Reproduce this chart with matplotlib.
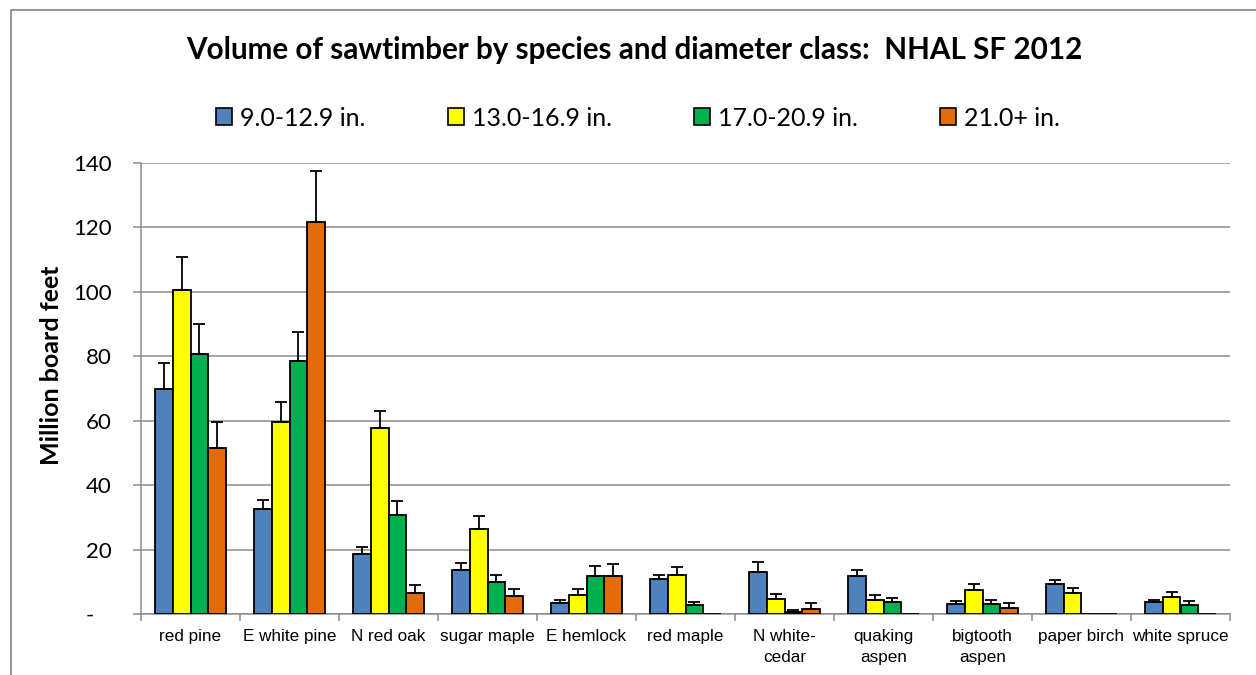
import matplotlib.pyplot as plt
from matplotlib.patches import Patch
from matplotlib.lines import Line2D
from matplotlib.ticker import FuncFormatter
import numpy as np

# species (x categories)
species = ['red pine', 'E white pine', 'N red oak', 'sugar maple', 'E hemlock',
           'red maple', 'N white-\ncedar', 'quaking\naspen', 'bigtooth\naspen',
           'paper birch', 'white spruce']

# diameter classes
classes = ['9.0-12.9 in.', '13.0-16.9 in.', '17.0-20.9 in.', '21.0+ in.']
colors = ['#4F81BD', '#FFFF00', '#00B050', '#E36C09']

# volume, million board feet
vol_9 = [70.0, 32.5, 18.7, 13.7, 3.4, 10.8, 13.1, 11.8, 3.0, 9.4, 3.6]
vol_13 = [100.6, 59.6, 57.7, 26.4, 5.8, 12.2, 4.7, 4.5, 7.5, 6.5, 5.3]
vol_17 = [80.8, 78.6, 30.6, 9.8, 11.9, 2.7, 0.7, 3.7, 3.1, 0.0, 2.8]
vol_21 = [51.5, 121.8, 6.6, 5.5, 11.7, 0.0, 1.7, 0.0, 2.0, 0.0, 0.0]

# upper error bars
err_9 = [7.9, 2.8, 2.2, 2.0, 1.0, 1.4, 3.1, 2.0, 0.9, 1.2, 0.9]
err_13 = [10.3, 6.2, 5.2, 4.1, 1.9, 2.3, 1.5, 1.5, 1.9, 1.5, 1.6]
err_17 = [9.2, 9.0, 4.5, 2.4, 3.1, 1.1, 0.5, 1.3, 1.3, 0.0, 1.3]
err_21 = [8.1, 15.6, 2.5, 2.2, 3.9, 0.0, 1.7, 0.0, 1.4, 0.0, 0.0]

vols = [vol_9, vol_13, vol_17, vol_21]
errs = [err_9, err_13, err_17, err_21]

W, H = 1256, 675
fig = plt.figure(figsize=(W / 100, H / 100), dpi=100)
ax = fig.add_axes([141 / W, 1 - 614 / H, (1230 - 141) / W, (614 - 163) / H])

grey = '#8C8C8C'
x = np.arange(len(species))
bw = 0.181
offsets = [-1.5 * bw, -0.5 * bw, 0.5 * bw, 1.5 * bw]

for vals, err, col, off in zip(vols, errs, colors, offsets):
    vals = np.array(vals)
    err = np.array(err)
    ax.bar(x + off, vals, bw, color=col, edgecolor='black', linewidth=1.3, zorder=3)
    m = err > 0
    ax.errorbar(x[m] + off, vals[m], yerr=[np.zeros(m.sum()), err[m]], fmt='none',
                ecolor='black', elinewidth=1.3, capsize=4.2, capthick=1.3, zorder=4)

ax.set_xlim(-0.5, len(species) - 0.5)
ax.set_ylim(0, 140)
ax.set_yticks(np.arange(0, 141, 20))
# excel accounting style: zero shown as a dash
ax.yaxis.set_major_formatter(FuncFormatter(lambda v, p: '-   ' if v == 0 else '%d' % v))
ax.grid(axis='y', color=grey, linewidth=1.1, zorder=0)

ax.set_xticks(x)
ax.set_xticklabels(species, fontfamily='Liberation Sans', fontsize=12.3, linespacing=1.45)
ax.set_xticks(np.arange(-0.5, len(species)), minor=True)
ax.tick_params(axis='x', which='major', length=0, pad=11)
ax.tick_params(axis='x', which='minor', length=5, color=grey, width=1.1)
ax.tick_params(axis='y', length=6, color=grey, width=1.1, pad=15, labelsize=16)
for lab in ax.get_yticklabels():
    lab.set_fontfamily('Lato')

for s in ['top', 'right']:
    ax.spines[s].set_visible(False)
for s in ['left', 'bottom']:
    ax.spines[s].set_color(grey)
    ax.spines[s].set_linewidth(1.1)

fig.text(52 / W, 1 - 365 / H, 'Million board feet', rotation=90, ha='center', va='center',
         fontfamily='Lato', fontweight='bold', fontsize=18)

fig.text(634 / W, 1 - 50 / H, 'Volume of sawtimber by species and diameter class:  NHAL SF 2012',
         ha='center', va='center', fontfamily='Lato', fontweight='bold', fontsize=21.3)

handles = [Patch(facecolor=c, edgecolor='black', linewidth=1.2) for c in colors]
fig.legend(handles, classes, loc='center', bbox_to_anchor=(638 / W, 1 - 118 / H), ncol=4,
           frameon=False, prop={'family': 'Lato', 'size': 18}, handlelength=0.65,
           handleheight=0.65, handletextpad=0.3, columnspacing=3.3)

# chart area border
fig.add_artist(Line2D([11 / W, 11 / W, 1.0], [0.0, 1 - 9.5 / H, 1 - 9.5 / H],
                      transform=fig.transFigure, color=grey, linewidth=1.3))

fig.savefig('out.png', dpi=100)
